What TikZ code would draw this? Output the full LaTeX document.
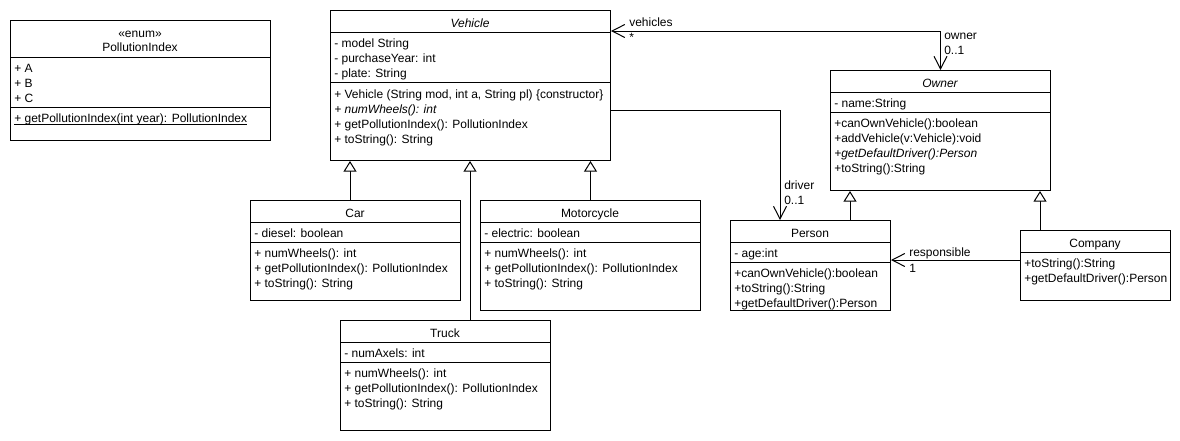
\documentclass[tikz,border=0pt]{standalone}
\usepackage{fontspec}
\setmainfont{Liberation Sans}
\usetikzlibrary{arrows.meta,calc}
\begin{document}
\begin{tikzpicture}[x=0.75pt,y=-0.75pt,
  every node/.style={font=\fontsize{9}{10.8}\selectfont},
  cls/.style={draw, line width=0.75pt, anchor=north west, inner sep=0pt, fill=white},
  txt/.style={anchor=base west, inner sep=0pt},
  ttl/.style={anchor=base, inner sep=0pt},
  ln/.style={line width=0.75pt},
  assoc/.style={line width=0.75pt, -{Straight Barb[length=9.5pt,width=9.75pt]}},
  assocboth/.style={line width=0.75pt, {Straight Barb[length=9.5pt,width=9.75pt]}-{Straight Barb[length=9.5pt,width=9.75pt]}},
  inh/.style={line width=0.75pt, -{Triangle[open,length=8pt,width=9.75pt,fill=white]}}
]
\fill[white] (0,0) rectangle (1180,440);
\useasboundingbox (0,0) rectangle (1180,440);

% PollutionIndex
\node[cls, minimum width=260*0.75pt, minimum height=120*0.75pt] (pi) at (10,20) {};
\node[ttl] (pit1) at (140,37) {«enum»};
\node[ttl] (pit2) at (140,51) {PollutionIndex};
\draw[ln] (10,57) -- (270,57);
\node[txt] (pia) at (14,72) {+ A};
\node[txt] (pib) at (14,87) {+ B};
\node[txt] (pic) at (14,102) {+ C};
\draw[ln] (10,107) -- (270,107);
\node[txt] (pim) at (14,122) {+ getPollutionIndex(int year): PollutionIndex};
\draw[ln] ($(pim.base west)+(0,2)$) -- ($(pim.base east)+(0,2)$);

% Vehicle
\node[cls, minimum width=280*0.75pt, minimum height=150*0.75pt] (veh) at (330,10) {};
\node[ttl] (veht) at (470,27) {\itshape Vehicle};
\draw[ln] (330,32) -- (610,32);
\node[txt] (veha1) at (334,47) {- model String};
\node[txt] (veha2) at (334,62) {- purchaseYear: int};
\node[txt] (veha3) at (334,77) {- plate: String};
\draw[ln] (330,82) -- (610,82);
\node[txt] (vehm1) at (334,98) {+ Vehicle (String mod, int a, String pl) \{constructor\}};
\node[txt] (vehm2) at (334,113) {\itshape + numWheels(): int};
\node[txt] (vehm3) at (334,128) {+ getPollutionIndex(): PollutionIndex};
\node[txt] (vehm4) at (334,143) {+ toString(): String};

% Owner
\node[cls, minimum width=220*0.75pt, minimum height=120*0.75pt] (own) at (830,70) {};
\node[ttl] (ownt) at (940,87) {\itshape Owner};
\draw[ln] (830,92) -- (1050,92);
\node[txt] (owna1) at (834,107) {- name:String};
\draw[ln] (830,112) -- (1050,112);
\node[txt] (ownm1) at (834,127) {+canOwnVehicle():boolean};
\node[txt] (ownm2) at (834,142) {+addVehicle(v:Vehicle):void};
\node[txt] (ownm3) at (834,157) {\itshape +getDefaultDriver():Person};
\node[txt] (ownm4) at (834,172) {+toString():String};

% Car
\node[cls, minimum width=210*0.75pt, minimum height=100*0.75pt] (car) at (250,200) {};
\node[ttl] (cart) at (355,217) {Car};
\draw[ln] (250,222) -- (460,222);
\node[txt] (cara1) at (254,237) {- diesel: boolean};
\draw[ln] (250,242) -- (460,242);
\node[txt] (carm1) at (254,257) {+ numWheels(): int};
\node[txt] (carm2) at (254,272) {+ getPollutionIndex(): PollutionIndex};
\node[txt] (carm3) at (254,287) {+ toString(): String};

% Motorcycle
\node[cls, minimum width=220*0.75pt, minimum height=110*0.75pt] (moto) at (480,200) {};
\node[ttl] (motot) at (590,217) {Motorcycle};
\draw[ln] (480,222) -- (700,222);
\node[txt] (motoa1) at (484,237) {- electric: boolean};
\draw[ln] (480,242) -- (700,242);
\node[txt] (motom1) at (484,257) {+ numWheels(): int};
\node[txt] (motom2) at (484,272) {+ getPollutionIndex(): PollutionIndex};
\node[txt] (motom3) at (484,287) {+ toString(): String};

% Truck
\node[cls, minimum width=210*0.75pt, minimum height=110*0.75pt] (truck) at (340,320) {};
\node[ttl] (truckt) at (445,337) {Truck};
\draw[ln] (340,342) -- (550,342);
\node[txt] (trucka1) at (344,357) {- numAxels: int};
\draw[ln] (340,362) -- (550,362);
\node[txt] (truckm1) at (344,377) {+ numWheels(): int};
\node[txt] (truckm2) at (344,392) {+ getPollutionIndex(): PollutionIndex};
\node[txt] (truckm3) at (344,407) {+ toString(): String};

% Person
\node[cls, minimum width=160*0.75pt, minimum height=90*0.75pt] (per) at (730,220) {};
\node[ttl] (pert) at (810,237) {Person};
\draw[ln] (730,242) -- (890,242);
\node[txt] (pera1) at (734,257) {- age:int};
\draw[ln] (730,262) -- (890,262);
\node[txt] (perm1) at (734,277) {+canOwnVehicle():boolean};
\node[txt] (perm2) at (734,292) {+toString():String};
\node[txt] (perm3) at (734,307) {+getDefaultDriver():Person};

% Company
\node[cls, minimum width=150*0.75pt, minimum height=70*0.75pt] (comp) at (1020,230) {};
\node[ttl] (compt) at (1095,247) {Company};
\draw[ln] (1020,252) -- (1170,252);
\node[txt] (compm1) at (1024,267) {+toString():String};
\node[txt] (compm2) at (1024,282) {+getDefaultDriver():Person};

% Connectors
\coordinate (vo) at ($(veh.north east)+(0,21)$);
\draw[assocboth] (vo) -| (own.north);
\node[txt] (lveh) at (629,26) {vehicles};
\node[txt] (lstar) at (629,41) {*};
\node[txt] (lown) at (944,39) {owner};
\node[txt] (lown2) at (944,54) {0..1};

\coordinate (vp) at ($(veh.north east)+(0,100)$);
\coordinate (pd) at ($(per.north west)+(50,0)$);
\draw[assoc] (vp) -| (pd);
\node[txt] (ldrv) at (784,189) {driver};
\node[txt] (ldrv2) at (784,204) {0..1};

\coordinate (cr) at ($(comp.north west)+(0,30)$);
\draw[assoc] (cr) -- (cr -| per.east);
\node[txt] (lresp) at (909,256) {responsible};
\node[txt] (lresp2) at (909,272) {1};

\coordinate (cg) at ($(car.north west)+(100,0)$);
\draw[inh] (cg) -- (cg |- veh.south);
\draw[inh] (moto.north) -- (moto.north |- veh.south);
\coordinate (tg) at ($(truck.north west)+(130,0)$);
\draw[inh] (tg) -- (tg |- veh.south);
\coordinate (pg) at ($(per.north west)+(120,0)$);
\draw[inh] (pg) -- (pg |- own.south);
\coordinate (og) at ($(comp.north west)+(20,0)$);
\draw[inh] (og) -- (og |- own.south);
\end{tikzpicture}
\end{document}
